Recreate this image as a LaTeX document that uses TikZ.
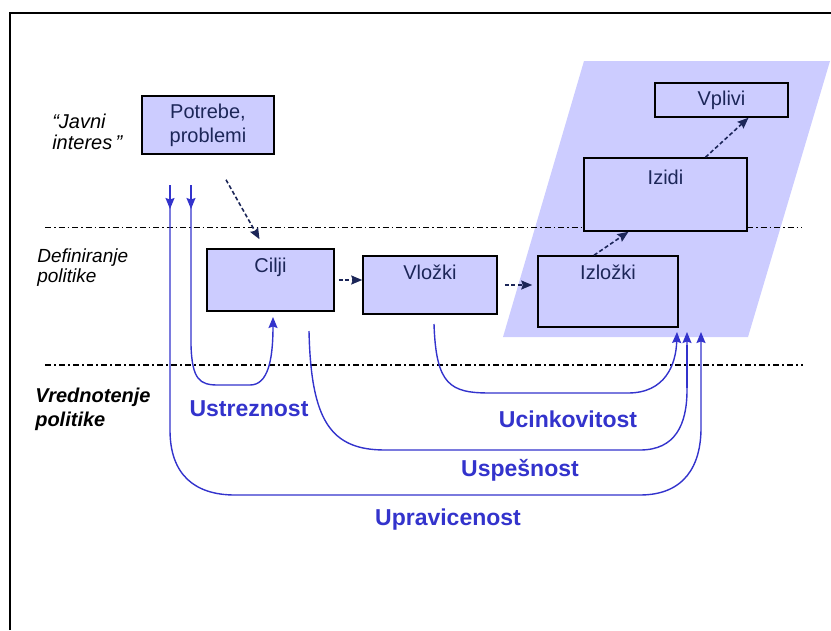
\documentclass[tikz,border=0pt]{standalone}
\usepackage{fontspec}
\setmainfont{Liberation Sans}
\usetikzlibrary{arrows.meta}

\definecolor{boxfill}{RGB}{204,204,255}
\definecolor{navy}{RGB}{28,38,88}
\definecolor{lineblue}{RGB}{51,51,204}

\begin{document}
\begin{tikzpicture}[
            x = 1pt, y = -1pt, % slide pixels, y downwards
            > = {Stealth[length=11pt,width=9pt,inset=1.5pt]}, % arrow head style
            semithick % line style
        ]

        \tikzstyle{box}=[
            draw = black,
            line width = 1.5pt,
            fill = boxfill,
            inner sep = 0pt
        ]
        \tikzstyle{boxtext}=[text = navy, align = center, font = \fontsize{20}{24}\selectfont]
        \tikzstyle{flow}=[->, navy, line width = 1.6pt, dash pattern = on 4pt off 2.5pt]
        \tikzstyle{crit}=[->, lineblue, line width = 1.4pt]
        \tikzstyle{crittext}=[text = lineblue, font = \fontsize{23}{27}\selectfont\bfseries]
        \tikzstyle{side}=[anchor = west, align = left, inner sep = 0pt, font = \fontsize{20}{21}\selectfont\itshape]

        \useasboundingbox (0,0) rectangle (831,630);
        \draw[line width = 2pt] (10,630) |- (831,13);

        % results area
        \fill[boxfill] (503,337) -- (584,61) -- (830,61) -- (748,337) -- cycle;

        % levels
        \draw[line width = 0.8pt, dash pattern = on 6pt off 3pt on 1.5pt off 3pt] (45,227) -- (802,227);
        \draw[line width = 2.2pt, dash pattern = on 6pt off 3pt on 2pt off 3pt] (45,365) -- (803,365);

        \node[side] (javni) at (52,132) {“Javni\\interes\,”};
        \node[side, font = \fontsize{19}{20}\selectfont\itshape] (definiranje) at (37,268) {Definiranje\\politike};
        \node[side, font = \fontsize{20}{24}\selectfont\bfseries\itshape] (vrednotenje) at (35,409) {Vrednotenje\\politike};

	\node[box, boxtext, minimum width = 132pt, minimum height = 58pt] (potrebe) at (208,125) {Potrebe,\\problemi};
	\node[box, minimum width = 127pt, minimum height = 62pt] (cilji) at (270.5,280) {};
	\node[box, minimum width = 134pt, minimum height = 58pt] (vlozki) at (430,285) {};
	\node[box, minimum width = 140pt, minimum height = 71pt] (izlozki) at (608,291.5) {};
	\node[box, minimum width = 163pt, minimum height = 73pt] (izidi) at (665.5,194.5) {};
	\node[box, boxtext, minimum width = 133pt, minimum height = 34pt] (vplivi) at (721.5,100) {Vplivi};

	\node[boxtext] (cilji-t) at ([yshift=-19pt]cilji.north) {Cilji};
	\node[boxtext] (vlozki-t) at ([yshift=-17pt]vlozki.north) {Vložki};
	\node[boxtext] (izlozki-t) at ([yshift=-17pt]izlozki.north) {Izložki};
	\node[boxtext] (izidi-t) at ([yshift=-20pt]izidi.north) {Izidi};

        \draw[flow] ([xshift=18pt,yshift=-25pt]potrebe.south) -- ([xshift=-11pt,yshift=9pt]cilji.north);
        \draw[flow, shorten <= 4pt] (cilji.east) -- (vlozki.west |- cilji.east);
        \draw[flow, shorten <= 7pt, shorten >= 5pt] (vlozki.east) -- (izlozki.west |- vlozki.east);
        \draw[flow] ([xshift=-14pt]izlozki.north) -- ([xshift=-37pt]izidi.south);
        \draw[flow] ([xshift=40pt]izidi.north) -- ([xshift=27pt]vplivi.south);

        % criteria
        \coordinate (upr0) at (170,185);
        \coordinate (ust0) at (191,185);
        \coordinate (usp0) at (309,331);
        \coordinate (uci0) at (434,324);
        \coordinate (ust) at (273,317);
        \coordinate (uci) at (677,332);
        \coordinate (usp) at (687,332);
        \coordinate (upr) at (701,332);

        \draw[crit] (upr0) -- ++(0,24);
        \draw[crit] (ust0) -- ++(0,24);
        \draw[crit] (ust0) -- (191,345) .. controls (192,380) and (200,385) .. (218,385)
            -- (250,385) .. controls (268,385) and (273,360) .. (ust);
        \draw[crit] (uci0) .. controls (436,385) and (450,393) .. (490,393)
            -- (628,393) .. controls (665,393) and (676,365) .. (uci);
        \draw[crit] (usp0) .. controls (311,420) and (330,450) .. (385,450)
            -- (640,450) .. controls (675,450) and (687,425) .. (687,390) -- (usp);
        \draw[lineblue, line width = 2.8pt] (687,388) -- (687,345);
        \draw[crit] (upr0) -- (170,430) .. controls (170,475) and (195,495) .. (235,495)
            -- (640,495) .. controls (685,495) and (701,465) .. (701,428) -- (upr);

        \node[crittext] (ustreznost) at (249,409) {Ustreznost};
        \node[crittext] (ucinkovitost) at (568,419) {Ucinkovitost};
        \node[crittext] (uspesnost) at (520,470) {Uspešnost};
        \node[crittext] (upravicenost) at (448,520) {Upravicenost};

    \end{tikzpicture}
\end{document}
